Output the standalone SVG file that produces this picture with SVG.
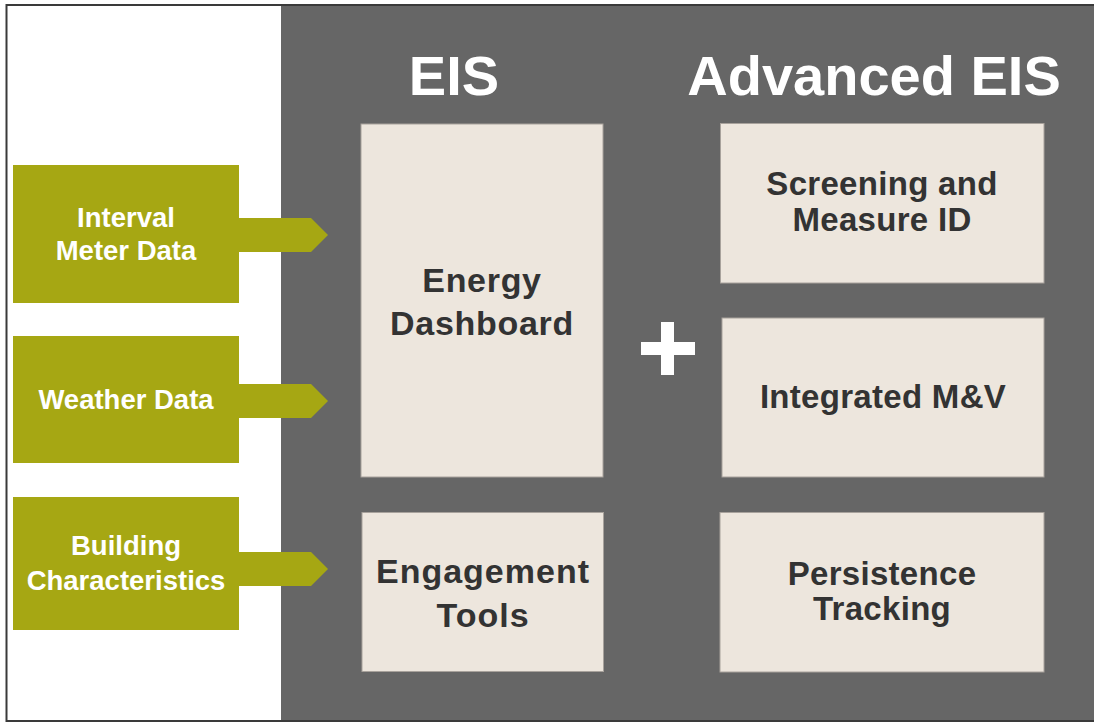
<svg xmlns="http://www.w3.org/2000/svg" width="1094" height="723" viewBox="0 0 1094 723">
<style>
.bg{fill:#ffffff}
.panel{fill:#666666}
.frame{fill:none;stroke:#3a3a3a;stroke-width:2}
.src{fill:#a6a713}
.arrow{fill:#a6a713}
.box{fill:#ede6dd;stroke:#a8a29c;stroke-width:1}
.title{font-family:"Liberation Sans",Arial,sans-serif;font-weight:bold;font-size:56px;fill:#ffffff;text-anchor:middle}
.lbl{font-family:"Liberation Sans",Arial,sans-serif;font-weight:bold;font-size:27.5px;fill:#ffffff;text-anchor:middle}
.txt{font-family:"Liberation Sans",Arial,sans-serif;font-weight:bold;font-size:33px;fill:#333333;text-anchor:middle;letter-spacing:0.3px}
.plus{fill:#ffffff}
</style>
<rect class="bg" x="0" y="0" width="1094" height="723"/>
<rect class="panel" x="281" y="5" width="813" height="716"/>
<rect class="frame" x="6.5" y="5" width="1090" height="716"/>
<text class="title" x="454" y="95">EIS</text>
<text class="title" x="874" y="95">Advanced EIS</text>
<g id="connectors">
<polygon class="arrow" points="238,218 311,218 328,235 311,252 238,252"/>
<polygon class="arrow" points="238,384 311,384 328,401 311,418 238,418"/>
<polygon class="arrow" points="238,552 311,552 328,569 311,586 238,586"/>
</g>
<g id="interval-meter-data">
<rect class="src" x="13" y="165" width="226" height="138"/>
<text class="lbl" x="126" y="227">Interval</text>
<text class="lbl" x="126" y="260">Meter Data</text>
</g>
<g id="weather-data">
<rect class="src" x="13" y="336" width="226" height="127"/>
<text class="lbl" x="126" y="409">Weather Data</text>
</g>
<g id="building-characteristics">
<rect class="src" x="13" y="497" width="226" height="133"/>
<text class="lbl" x="126" y="555">Building</text>
<text class="lbl" x="126" y="590">Characteristics</text>
</g>
<g id="energy-dashboard">
<rect class="box" x="361" y="124" width="242" height="353"/>
<text class="txt" x="482" y="292" style="font-size:34px;letter-spacing:0.7px">Energy</text>
<text class="txt" x="482" y="335" style="font-size:34px;letter-spacing:0.7px">Dashboard</text>
</g>
<g id="engagement-tools">
<rect class="box" x="362" y="512.5" width="241.5" height="159"/>
<text class="txt" x="483" y="583" style="font-size:34px;letter-spacing:1px">Engagement</text>
<text class="txt" x="483" y="627" style="font-size:34px;letter-spacing:1px">Tools</text>
</g>
<g id="plus">
<rect class="plus" x="661" y="322" width="13" height="53"/>
<rect class="plus" x="641" y="342" width="54" height="13"/>
</g>
<g id="screening-measure-id">
<rect class="box" x="720.5" y="123.5" width="323.5" height="159.5"/>
<text class="txt" x="882" y="195">Screening and</text>
<text class="txt" x="882" y="231">Measure ID</text>
</g>
<g id="integrated-mv">
<rect class="box" x="722" y="318" width="322" height="159"/>
<text class="txt" x="883" y="408">Integrated M&amp;V</text>
</g>
<g id="persistence-tracking">
<rect class="box" x="720" y="512.5" width="324" height="159.5"/>
<text class="txt" x="882" y="585">Persistence</text>
<text class="txt" x="882" y="620">Tracking</text>
</g>
</svg>
